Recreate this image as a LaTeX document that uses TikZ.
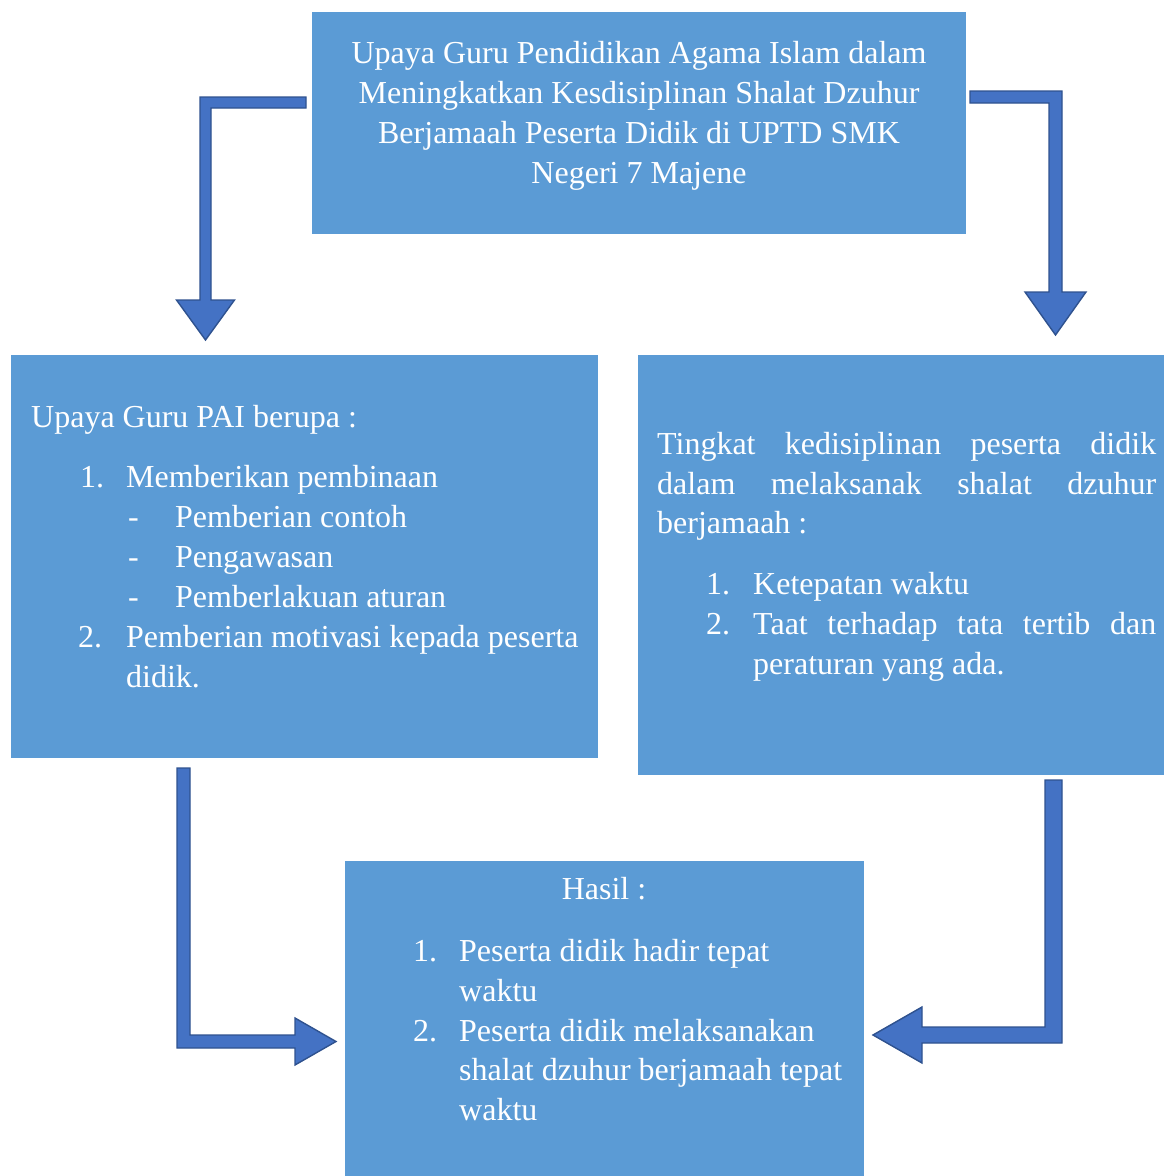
\documentclass[tikz,border=0pt]{standalone}
\usepackage{fontspec}
\setmainfont{Liberation Serif}
\definecolor{boxfill}{HTML}{5B9BD5}
\definecolor{arrfill}{HTML}{4472C4}
\definecolor{arredge}{HTML}{2F528F}
\tikzset{
  box/.style={rectangle, fill=boxfill, draw=none, inner sep=0pt},
  txt/.style={anchor=base west, inner sep=0pt, text=white, font=\fontsize{32pt}{40pt}\selectfont},
  ctxt/.style={txt, anchor=base},
  blockarrow/.style={fill=arrfill, draw=arredge, line width=1.4pt, line join=miter},
}
\begin{document}
\begin{tikzpicture}[x=1pt,y=-1pt]
\useasboundingbox (0,0) rectangle (1164,1176);
% boxes
\node[box, minimum width=654pt, minimum height=222pt] (boxTop) at (639,123) {};
\node[box, minimum width=587pt, minimum height=403pt] (boxL) at (304.5,556.5) {};
\node[box, minimum width=526pt, minimum height=420pt] (boxR) at (901,565) {};
\node[box, minimum width=519pt, minimum height=315pt] (boxB) at (604.5,1018.5) {};
% top text
\node[ctxt] (t1) at (639,63) {Upaya Guru Pendidikan Agama Islam dalam};
\node[ctxt] (t2) at (639,103) {Meningkatkan Kesdisiplinan Shalat Dzuhur};
\node[ctxt] (t3) at (639,143) {Berjamaah Peserta Didik di UPTD SMK};
\node[ctxt] (t4) at (639,183) {Negeri 7 Majene};
% left text
\node[txt] (l0) at (31,427) {Upaya Guru PAI berupa :};
\node[txt] (l1n) at (80,487) {1.};
\node[txt] (l1) at (126,487) {Memberikan pembinaan};
\node[txt] (l2n) at (128,527) {-};
\node[txt] (l2) at (175,527) {Pemberian contoh};
\node[txt] (l3n) at (128,567) {-};
\node[txt] (l3) at (175,567) {Pengawasan};
\node[txt] (l4n) at (128,607) {-};
\node[txt] (l4) at (175,607) {Pemberlakuan aturan};
\node[txt] (l5n) at (78,647) {2.};
\node[txt] (l5) at (126,647) {Pemberian motivasi kepada peserta};
\node[txt] (l6) at (126,687) {didik.};
% right text
\node[txt] (r0) at (657,454) {\makebox[499pt][s]{Tingkat kedisiplinan peserta didik}};
\node[txt] (r1) at (657,494) {\makebox[499pt][s]{dalam melaksanak shalat dzuhur}};
\node[txt] (r2) at (657,533) {berjamaah :};
\node[txt] (r3n) at (706,594) {1.};
\node[txt] (r3) at (753,594) {Ketepatan waktu};
\node[txt] (r4n) at (706,634) {2.};
\node[txt] (r4) at (753,634) {\makebox[403pt][s]{Taat terhadap tata tertib dan}};
\node[txt] (r5) at (753,674) {peraturan yang ada.};
% bottom text
\node[ctxt] (b0) at (604,899) {Hasil :};
\node[txt] (b1n) at (413,961) {1.};
\node[txt] (b1) at (459,961) {Peserta didik hadir tepat};
\node[txt] (b2) at (459,1001) {waktu};
\node[txt] (b3n) at (413,1041) {2.};
\node[txt] (b3) at (459,1041) {Peserta didik melaksanakan};
\node[txt] (b4) at (459,1080) {shalat dzuhur berjamaah tepat};
\node[txt] (b5) at (459,1120) {waktu};
% arrows
\draw[blockarrow] (306,97) -- (200,97) -- (200,300) -- (176.5,300) -- (205.5,340) -- (234.5,300) -- (211,300) -- (211,108) -- (306,108) -- cycle;
\draw[blockarrow] (970,91) -- (1062,91) -- (1062,292) -- (1086,292) -- (1055.5,335) -- (1025,292) -- (1049,292) -- (1049,103) -- (970,103) -- cycle;
\draw[blockarrow] (177,768) -- (190,768) -- (190,1035) -- (295,1035) -- (295,1018) -- (336,1041.5) -- (295,1065) -- (295,1048) -- (177,1048) -- cycle;
\draw[blockarrow] (1045,780) -- (1062,780) -- (1062,1043) -- (922,1043) -- (922,1063) -- (873,1035) -- (922,1007) -- (922,1027) -- (1045,1027) -- cycle;
\end{tikzpicture}
\end{document}
